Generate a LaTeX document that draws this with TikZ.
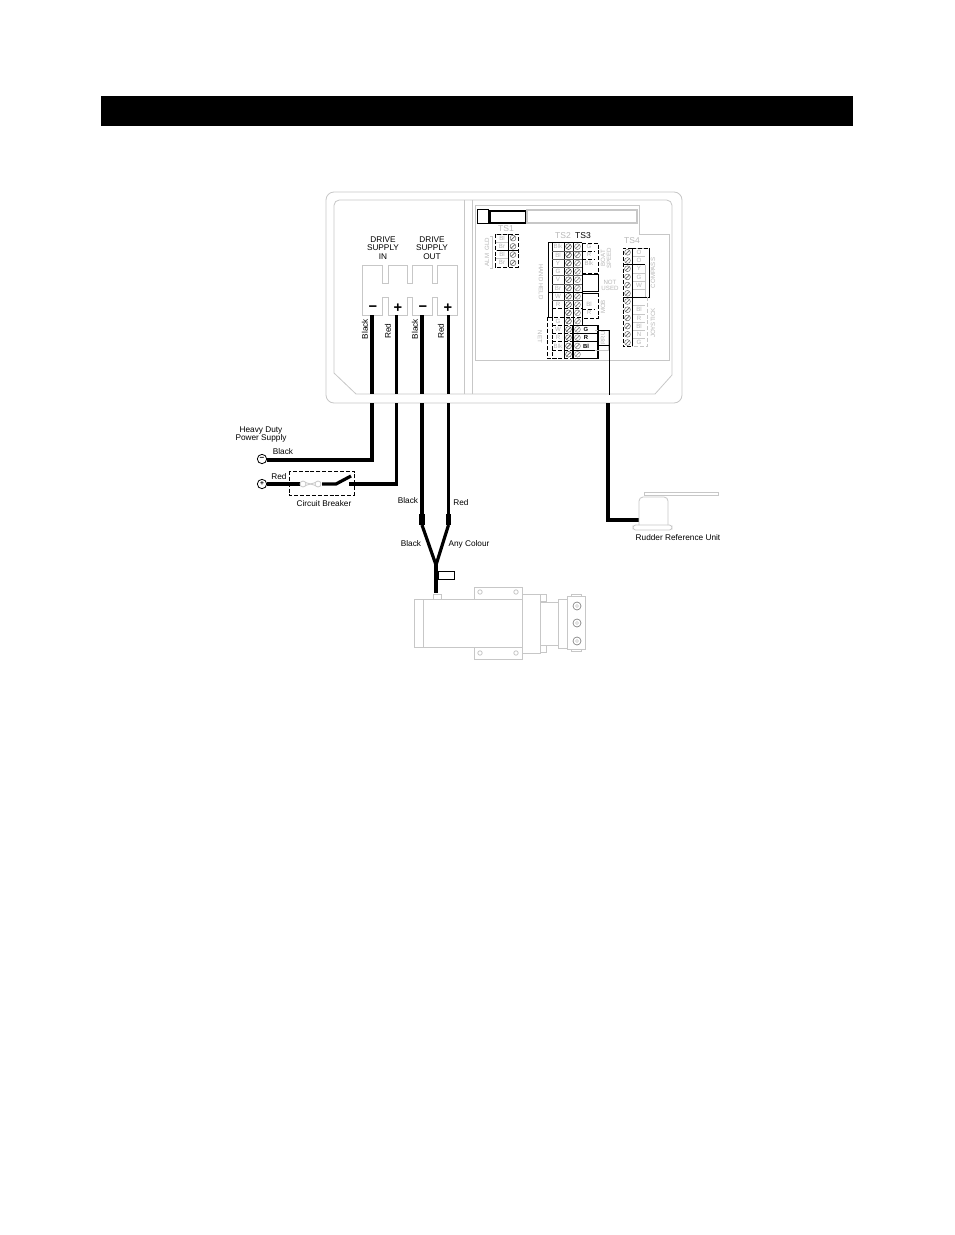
\documentclass[tikz,border=0pt]{standalone}
\usepackage{fontspec}
\setmainfont{Liberation Sans}
\definecolor{gl}{gray}{0.78}
\definecolor{gt}{gray}{0.72}
\newcommand{\fs}[1]{\fontsize{#1}{#1}\selectfont}
\tikzset{
 panel/.style={draw=gl,line width=0.6pt},
 wire/.style={line width=2.4pt,line join=miter},
 hair/.style={draw=black,line width=0.7pt},
 dashb/.style={draw=black,line width=0.6pt,dash pattern=on 3pt off 1.4pt},
 blab/.style={font=\fs{6.2},inner sep=0pt,align=center},
 gtext/.style={font=\fs{4.6},text=gt,inner sep=0pt,align=center},
 gtitle/.style={font=\fs{6.4},text=gt,inner sep=0pt},
 rowb/.style={font=\fs{4.4},inner sep=0pt,text=black},
}
\newcommand{\scr}[3]{% x,y,colour
 \draw[#3,line width=0.35pt] (#1,#2) circle[radius=2.9];
 \draw[#3,line width=0.5pt] (#1-2,#2+2) -- (#1+2,#2-2);
}
\begin{document}
\begin{tikzpicture}[x=0.75pt,y=-0.75pt]
\useasboundingbox (0,0) rectangle (954,1235);
\fill[white] (0,0) rectangle (954,1235);
\fill[black] (101,96) rectangle (853,126);
% enclosure
\draw[panel,rounded corners=6] (464,192) -- (326,192) -- (326,403) -- (682,403) -- (682,192) -- cycle;
\draw[panel] (464,200) [rounded corners=4] -- (334,200) [sharp corners] -- (334,373) -- (356,394) -- (655,394) -- (672,375) [rounded corners=4] -- (672,200) [sharp corners] -- (464,200);
\draw[panel] (464,200) -- (464,394);
\draw[panel] (472,200) -- (472,394);
\draw[panel] (475,205) -- (639,205) -- (639,234) -- (669,234) -- (669,360) -- (475,360) -- cycle;
% terminal block
\draw[panel] (362,315) -- (362,265) -- (382,265) -- (382,283) -- (388,283) -- (388,265) -- (407,265) -- (407,283) -- (412,283) -- (412,265) -- (432,265) -- (432,283) -- (437,283) -- (437,265) -- (457,265) -- (457,315) -- (437,315) -- (437,297) -- (432,297) -- (432,315) -- (412,315) -- (412,297) -- (407,297) -- (407,315) -- (388,315) -- (388,297) -- (382,297) -- (382,315) -- cycle;
\node[blab] (dsi) at (383,248) {DRIVE\\[0.2pt]SUPPLY\\[0.2pt]IN};
\node[blab] (dso) at (432,248) {DRIVE\\[0.2pt]SUPPLY\\[0.2pt]OUT};
\node[font=\bfseries\fs{11},inner sep=0pt] (m1) at (373,309) {\textminus};
\node[font=\bfseries\fs{11},inner sep=0pt] (p1) at (398,308) {+};
\node[font=\bfseries\fs{11},inner sep=0pt] (m2) at (423,309) {\textminus};
\node[font=\bfseries\fs{11},inner sep=0pt] (p2) at (448,308) {+};
\node[blab,rotate=90] (wl1) at (365,329) {Black};
\node[blab,rotate=90] (wl2) at (388,331) {Red};
\node[blab,rotate=90] (wl3) at (415,329) {Black};
\node[blab,rotate=90] (wl4) at (441,331) {Red};
% wires terminal to enclosure
\coordinate (a1) at (372,315); \coordinate (a2) at (372,394); \coordinate (a3) at (372,403);
\coordinate (b1) at (396.5,315); \coordinate (b2) at (396.5,394); \coordinate (b3) at (396.5,403);
\coordinate (c1) at (422,315); \coordinate (c2) at (422,394); \coordinate (c3) at (422,403);
\coordinate (d1) at (448.5,315); \coordinate (d2) at (448.5,394); \coordinate (d3) at (448.5,403);
\foreach \n in {a,b,c,d} \draw[wire] (\n1) -- (\n2);
% supply
\node[circle,draw,line width=0.6pt,minimum size=7pt,inner sep=0pt,font=\bfseries\fs{6}] (neg) at (262,459) {\textminus};
\node[circle,draw,line width=0.6pt,minimum size=7pt,inner sep=0pt,font=\bfseries\fs{5}] (pos) at (262,484) {+};
\draw[wire] (a3) -- (372,460) -- (neg.east |- 0,460);
\coordinate (f1) at (300,484); \coordinate (f2) at (322,484); \coordinate (f3) at (336,484); \coordinate (f4) at (351,476);
\coordinate (g1) at (349,484);
\draw[wire] (pos.east) -- (f1);
\draw[fill=white,draw=gl,line width=0.6pt] (303,484) circle[radius=3] (318,484) circle[radius=3];
\draw[gl,line width=0.6pt] (305.5,482.5) .. controls (309,483) and (312,485) .. (315.5,485.5);
\draw[gl,line width=0.6pt] (305.5,485.5) .. controls (309,485) and (312,483) .. (315.5,482.5);
\draw[wire] (f2) -- (f3) -- (f4);
\draw[wire] (b3) -- (396.5,484) -- (g1);
\draw[dashb] (289,471) rectangle (354,495);
\node[blab] (hd) at (261,434.5) {Heavy Duty\\[0.2pt]Power Supply};
\node[blab] (lb) at (283,452) {Black};
\node[blab] (lr) at (279,477) {Red};
\node[blab] (cb) at (324,504) {Circuit Breaker};
% motor wires
\coordinate (j) at (436,565); \coordinate (je) at (436,593);
\coordinate (cs) at (422,514); \coordinate (ce) at (422,525);
\coordinate (ds) at (448.5,514); \coordinate (de) at (448.5,525);
\draw[wire] (c3) -- (cs);
\draw[wire] (d3) -- (ds);
\draw[line width=4pt] (cs) -- (ce);
\draw[line width=4pt] (ds) -- (de);
\draw[wire] (ce) -- (j) -- (de);
\draw[wire] (j) -- (je);
\draw[line width=0.6pt,fill=white] (438,571) rectangle (454,579);
\node[blab] (l1) at (408,501) {Black};
\node[blab] (l2) at (461,503) {Red};
\node[blab] (l3) at (411,544) {Black};
\node[blab] (l4) at (469,544) {Any Colour};
% motor
\draw[panel] (414,599) rectangle (522,647);
\draw[panel] (423,599) -- (423,647);
\draw[panel] (433,599) -- (433,594) -- (441,594) -- (441,599);
\draw[panel] (474,599) -- (474,587) -- (522,587) -- (522,599);
\draw[panel] (474,647) -- (474,659) -- (522,659) -- (522,647);
\foreach \p in {(480,592),(516,592),(480,653),(516,653)} \draw[panel] \p circle[radius=2.2];
\draw[gray,line width=0.6pt] (522,599) -- (522,647);
\draw[panel] (522,594) rectangle (540,653);
\draw[panel] (540,594) rectangle (546,601);
\draw[panel] (540,645) rectangle (546,652);
\draw[panel] (540,602) rectangle (558,645);
\draw[panel] (558,599) rectangle (567,648);
\draw[panel] (567,596) rectangle (585,649);
\draw[panel] (571,596) -- (571,594) -- (581,594) -- (581,596);
\draw[panel] (571,649) -- (571,651) -- (581,651) -- (581,649);
\foreach \y in {606,623,641} { \draw[gray,line width=0.5pt] (577,\y) circle[radius=4]; \draw[gl,line width=0.4pt] (577,\y) circle[radius=1.6]; }
% rudder
\coordinate (r1) at (608,403); \coordinate (r2) at (608,520); \coordinate (r3) at (639,520);
\draw[line width=3.4pt,line join=miter] (r1) -- (r2) -- (r3);
\draw[panel,rounded corners=3] (639,525) -- (639,497) -- (668,497) -- (668,525);
\draw[panel] (644,492) rectangle (718,495);
\draw[panel,rounded corners=2] (633,525) rectangle (672,530);
\node[blab] (ru) at (678,538) {Rudder Reference Unit};
% header
\draw[hair] (477,209) rectangle (488,223);
\draw[black,line width=0.9pt] (490,211) rectangle (526,223);
\draw[panel,line width=0.8pt] (527,210) rectangle (637,223);
% titles
\node[gtitle] (t1) at (506,228.5) {TS1};
\node[gtitle] (t2) at (563,236) {TS2};
\node[font=\fs{6.4},inner sep=0pt] (t3) at (583,236) {TS3};
\node[gtitle] (t4) at (632,241) {TS4};
% TS1
\foreach \i/\t in {0/Bl,1/Br,2/Bl,3/Br} {
  \node[gtext] (ts1\i) at (502,238.1+\i*8.25) {\t};
  \scr{513}{238.1+\i*8.25}{black!60}
  \draw[gl,line width=0.4pt] (496,234+\i*8.25) -- (508,234+\i*8.25);
}
\draw[black,line width=0.6pt] (497,250.5) -- (518,250.5);
\draw[dashb] (495,234) rectangle (518,267);
\draw[black,line width=0.5pt] (508,234) -- (508,267);
\node[gtext,rotate=90] (g1a) at (487,244) {GLD};
\node[gtext,rotate=90] (g1b) at (487,260) {ALM};
\draw[gl,line width=0.4pt] (490,236) -- (492,236) -- (492,268) -- (490,268);
% TS2 / TS3
\def\ry{8.28}
\foreach \i/\t in {0/Blk,1/Bl,2/Y,3/G,4/V,5/Br,6/W,7/R,8/,9/G,10/W,11/R,12/Blk,13/} {
  \node[gtext] (ts2\i) at (558,246.6+\i*\ry) {\t};
  \scr{568.5}{246.6+\i*\ry}{black!70}
  \scr{577.5}{246.6+\i*\ry}{black!50}
}
\foreach \i/\t in {0/G,1/R,2/Blk,7/Bl,8/R} {
  \node[gtext] (ts3\i) at (589,246.6+\i*\ry) {\t};
}
\foreach \i/\t in {10/G,11/R,12/Bl} {
  \node[rowb,font=\bfseries\fs{4.4}] (ts3\i) at (586,246.6+\i*\ry) {\t};
}
% TS2 outlines
\draw[black,line width=0.5pt] (552,242.5) -- (552,317);
\draw[black,line width=0.6pt] (548,317) -- (548,242.5) -- (582,242.5);
\draw[black,line width=0.5pt] (564,242.5) -- (564,358.4);
\draw[black,line width=0.5pt] (573,242.5) -- (573,358.4);
\draw[black,line width=0.6pt] (582,242.5) -- (582,325.3);
\foreach \i in {1,2,3,4,5,6,7} \draw[black!60,line width=0.35pt] (552,242.5+\i*\ry) -- (582,242.5+\i*\ry);
\draw[black,line width=0.6pt] (548,242.5+6*\ry) -- (582,242.5+6*\ry);
\draw[dashb] (552,242.5+8*\ry) -- (582,242.5+8*\ry);
\draw[dashb] (548,242.5+9*\ry) -- (582,242.5+9*\ry);
\draw[dashb] (547,317) -- (547,358.4) -- (573,358.4);
\foreach \i in {10,11,12,13} \draw[dashb] (552,242.5+\i*\ry) -- (573,242.5+\i*\ry);
\draw[dashb] (552,317) -- (552,358.4);
% TS3 RRU block
\draw[black,line width=0.9pt] (573,325.3) rectangle (598,358.4);
\foreach \i in {11,12,13} \draw[black,line width=0.7pt] (573,242.5+\i*\ry) -- (598,242.5+\i*\ry);
% TS3 brackets
\draw[dashb] (582,243) -- (598,243) -- (598,273);
\draw[dashb] (582,251.3) -- (595,251.3);
\draw[dashb] (582,259.6) -- (595,259.6);
\draw[black,line width=0.6pt] (582,274.5) -- (598,274.5) -- (598,291.5) -- (582,291.5);
\draw[dashb] (598,273) -- (582,273);
\draw[black,line width=0.6pt] (582,293) -- (598,293);
\draw[dashb] (598,293) -- (598,318) -- (582,318);
\draw[dashb] (582,309.8) -- (594,309.8);
\node[gtext,rotate=90] (bs) at (606,258) {BOAT\\SPEED};
\node[gtext] (nu) at (610,285) {NOT\\USED};
\node[gtext,rotate=90] (mo) at (603,307) {MOB};
\node[gtext,rotate=90] (rr) at (603,338) {RRU};
\node[gtext,rotate=-90] (hh) at (541,282) {HAND HELD};
\node[gtext,rotate=-90] (ne) at (540,337) {NET};
% RRU connection
\draw[panel] (595,330) -- (608,330) -- (608,350) -- (595,350);
\coordinate (q) at (609,395);
\coordinate (q1) at (609,330); \coordinate (q2) at (609,345);
\draw[black,line width=0.6pt] (598,330) -- (q1) -- (q);
\draw[black,line width=0.6pt] (598,345) -- (q2);
% TS4
\def\rf{8.2}
\foreach \i/\t in {0/O/G,1/O/G,2/Y,3/G,4/W,5/,6/,7/Bl,8/R,9/Bl,10/N,11/G} {
  \node[gtext] (ts4\i) at (639,252.3+\i*\rf) {\t};
  \scr{627.5}{252.3+\i*\rf}{black!60}
  \draw[gl,line width=0.4pt] (632,248.2+\i*\rf) -- (645,248.2+\i*\rf);
}
\draw[dashb] (632,248.2) -- (623,248.2) -- (623,346.6) -- (632,346.6);
\draw[black,line width=0.5pt] (632,248.2) -- (632,346.6);
\draw[dashb] (632,248.2) -- (649,248.2);
\draw[black,line width=0.6pt] (649,248.2) -- (649,297) -- (645,297);
\draw[black,line width=0.6pt] (623,264.6) -- (645,264.6);
\draw[gl,line width=0.5pt] (645,264.6) -- (645,297);
\draw[black,line width=0.6pt] (623,297) -- (645,297);
\draw[gl,line width=0.5pt,dash pattern=on 3pt off 1.4pt] (647,297) -- (647,346.6) -- (632,346.6);
\node[gtext,rotate=90] (co) at (653,273) {COMPASS};
\node[gtext,rotate=90] (jo) at (653,323) {JOYSTICK};
\end{tikzpicture}
\end{document}
